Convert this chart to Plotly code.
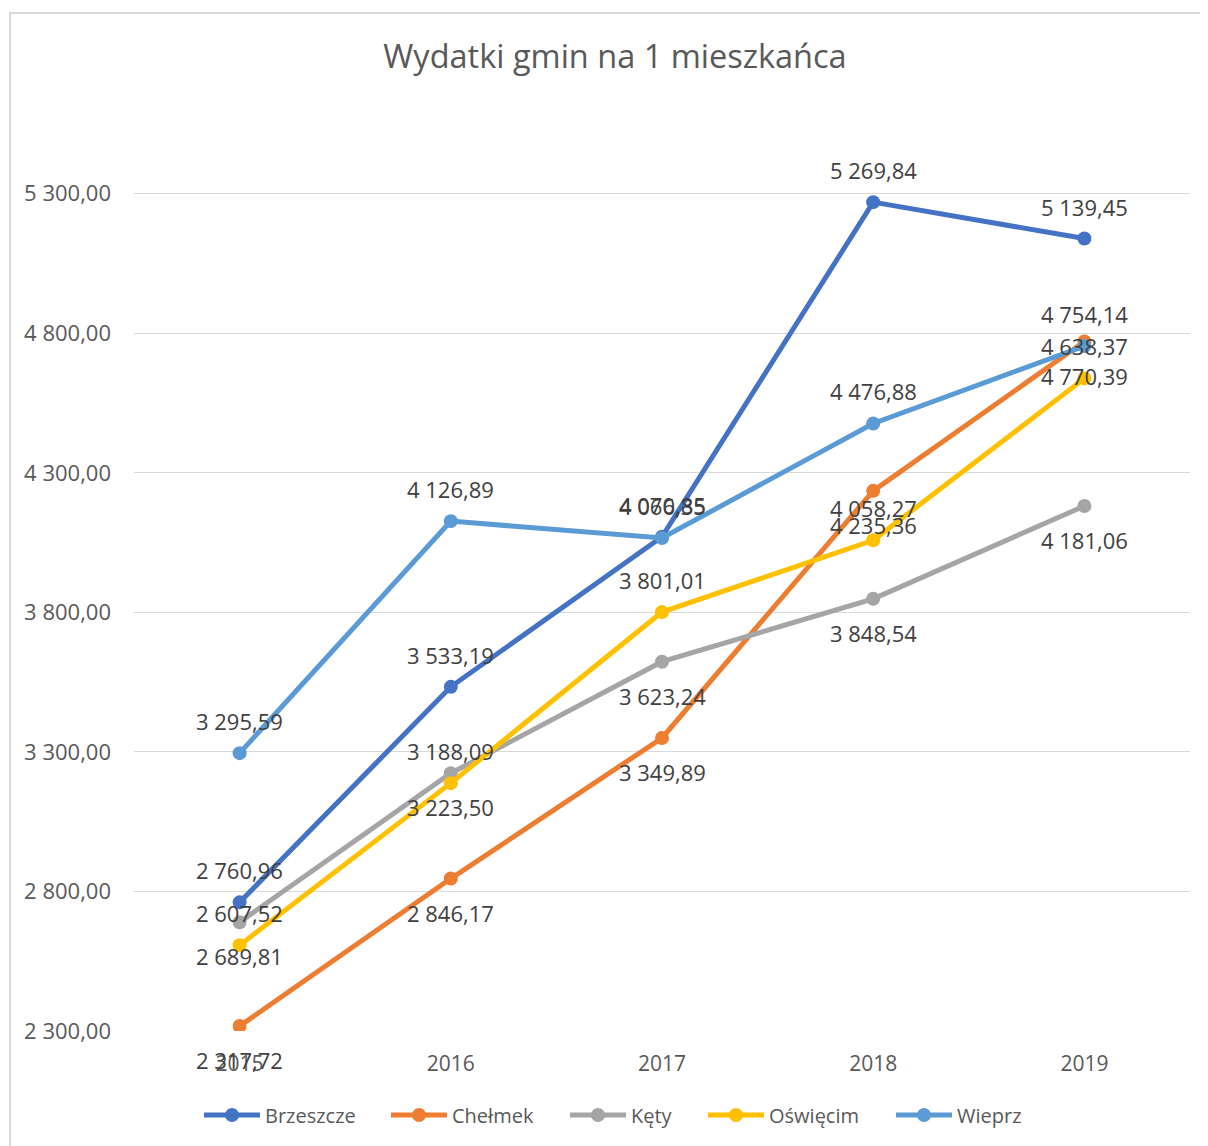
import plotly.graph_objects as go

years = [2015, 2016, 2017, 2018, 2019]

brzeszcze = [2760.96, 3533.19, 4070.85, 5269.84, 5139.45]
chelmek = [2317.72, 2846.17, 3349.89, 4235.36, 4770.39]
kety = [2689.81, 3223.50, 3623.24, 3848.54, 4181.06]
oswiecim = [2607.52, 3188.09, 3801.01, 4058.27, 4638.37]
wieprz = [3295.59, 4126.89, 4066.35, 4476.88, 4754.14]

y_ticks = [2300, 2800, 3300, 3800, 4300, 4800, 5300]

# name, values, colour, label above (+) or below (-), legend item left edge (px)
series = [
    ("Brzeszcze", brzeszcze, "#4472C4", 32, 205),
    ("Chełmek", chelmek, "#ED7D31", -34, 392),
    ("Kęty", kety, "#A5A5A5", -34, 571),
    ("Oświęcim", oswiecim, "#FFC000", 32, 709),
    ("Wieprz", wieprz, "#5B9BD5", 32, 897),
]

FONT = "Open Sans"
GREY = "#595959"

# page body has an 8px margin, so the figure is 8px smaller and everything
# below is given in screen pixels minus 8
OFF = 8
W, H = 1208 - OFF, 1146 - OFF
L, R = 134 - OFF, 18
T = 110 - OFF
BOTTOM = 1031 - OFF
B = H - BOTTOM
pw, ph = W - L - R, H - T - B


def pl(v):
    # polish number format: space thousands, comma decimals
    return f"{v:,.2f}".replace(",", " ").replace(".", ",")


fig = go.Figure()
annotations = []
legends = {}
for i, (name, vals, color, shift, lx) in enumerate(series):
    # one legend per series so the item spacing can follow the reference
    lid = "legend" if i == 0 else f"legend{i + 1}"
    fig.add_trace(
        go.Scatter(
            x=years,
            y=vals,
            name=name,
            mode="lines+markers",
            line=dict(color=color, width=5),
            marker=dict(color=color, size=14),
            legend=lid,
            showlegend=True,
        )
    )
    legends[lid] = dict(
        orientation="h",
        x=(lx - 6 - OFF - L) / pw, xanchor="left",
        y=(BOTTOM - (1115 - OFF)) / ph, yanchor="middle",
        font=dict(size=20, color=GREY),
        itemwidth=56,
        bgcolor="rgba(0,0,0,0)",
    )
    for yr, v in zip(years, vals):
        annotations.append(
            dict(
                x=yr, y=v, xref="x", yref="y", text=pl(v), showarrow=False,
                yshift=shift, font=dict(family=FONT, size=22, color="#404040"),
            )
        )

fig.update_layout(
    width=W,
    height=H,
    margin=dict(l=L, r=R, t=T, b=B),
    paper_bgcolor="white",
    plot_bgcolor="white",
    showlegend=True,
    font=dict(family=FONT, color=GREY, size=21),
    title=dict(
        text="Wydatki gmin na 1 mieszkańca",
        x=(615 - OFF) / W, xanchor="center",
        y=1 - (57 - OFF) / H, yanchor="middle",
        font=dict(family=FONT, size=32.5, color=GREY),
    ),
    xaxis=dict(
        range=[2014.5, 2019.5],
        tickvals=years,
        ticktext=[str(y) for y in years],
        showgrid=False,
        showline=False,
        zeroline=False,
        ticks="",
        ticklabelstandoff=18,
        tickfont=dict(size=21, color=GREY),
    ),
    yaxis=dict(
        range=[2300, 5600],
        tickvals=y_ticks,
        ticktext=[pl(v) for v in y_ticks],
        showgrid=True,
        gridcolor="#D9D9D9",
        gridwidth=1.3,
        zeroline=False,
        showline=False,
        ticks="",
        ticklabelstandoff=22,
        tickfont=dict(size=22, color=GREY),
    ),
    annotations=annotations,
    shapes=[
        dict(
            type="rect", xref="paper", yref="paper",
            x0=(10 - OFF - L) / pw, x1=(1240 - L) / pw,
            y0=-0.3, y1=(BOTTOM - (13 - OFF)) / ph,
            line=dict(color="#D9D9D9", width=2),
            layer="below",
        )
    ],
    **legends,
)

fig.write_html("out.html")
